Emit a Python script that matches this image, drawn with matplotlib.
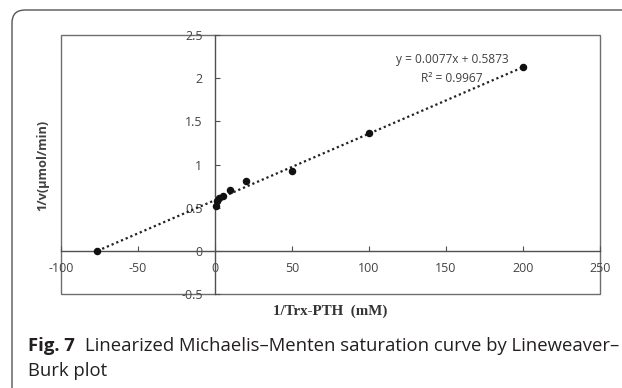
import matplotlib
matplotlib.use("Agg")
import matplotlib.pyplot as plt
from matplotlib.patches import Rectangle, FancyBboxPatch
import numpy as np

# ---- data ----
x_vals = [-76.3, 0.5, 1, 2.5, 5, 10, 20, 50, 100, 200]
y_vals = [0.0, 0.52, 0.58, 0.61, 0.64, 0.70, 0.81, 0.93, 1.36, 2.13]
slope = 0.0077
intercept = 0.5873
r2 = 0.9967
x_ticks = [-100, -50, 0, 50, 100, 150, 200, 250]
y_ticks = [-0.5, 0, 0.5, 1, 1.5, 2, 2.5]
x_tick_labels = ["-100", "-50", "0", "50", "100", "150", "200", "250"]
y_tick_labels = ["-0.5", "0", "0.5", "1", "1.5", "2", "2.5"]
eq_text = "y = 0.0077x + 0.5873"
r2_text = "R\u00b2 = 0.9967"
x_label = "1/Trx-PTH  (mM)"
y_label = "1/v(\u03bcmol/min)"
cap_bold = "Fig. 7"
cap_line1 = "Linearized Michaelis\u2013Menten saturation curve by Lineweaver\u2013"
cap_line2 = "Burk plot"

W, H = 622, 388
fig = plt.figure(figsize=(W / 100, H / 100), dpi=100)
fig.patch.set_facecolor("white")

# outer rounded frame
frame = FancyBboxPatch((0.12, -0.3), 6.6, 3.78 + 0.3,
                       boxstyle="round,pad=0,rounding_size=0.13",
                       transform=fig.dpi_scale_trans, fill=False,
                       edgecolor="#555555", linewidth=1.0, zorder=0)
fig.patches.append(frame)

ax = fig.add_axes([61 / W, 1 - 294 / H, (600 - 61) / W, (294 - 35) / H])
ax.set_xlim(-100, 250)
ax.set_ylim(-0.5, 2.5)

# plot-area box
ax.add_patch(Rectangle((0, 0), 1, 1, transform=ax.transAxes, fill=False,
                       edgecolor="#6e6e6e", linewidth=1.0, zorder=1, clip_on=False))
for s in ("top", "right"):
    ax.spines[s].set_visible(False)
ax.spines["left"].set_position(("data", 0))
ax.spines["bottom"].set_position(("data", 0))
for s in ("left", "bottom"):
    ax.spines[s].set_color("#505050")
    ax.spines[s].set_linewidth(1.0)

ax.set_xticks(x_ticks)
ax.set_xticklabels(x_tick_labels)
ax.set_yticks(y_ticks)
ax.set_yticklabels(y_tick_labels)
for lab in ax.get_xticklabels() + ax.get_yticklabels():
    lab.set_fontfamily("Open Sans")
    lab.set_fontsize(9)
ax.tick_params(axis="x", direction="in", length=3.5, width=0.8, color="#505050",
               labelcolor="#444444", pad=8.3)
ax.tick_params(axis="y", direction="in", length=3.5, width=0.8, color="#505050",
               labelcolor="#444444", pad=9)

# trendline
xl = np.array([min(x_vals), max(x_vals)])
ax.plot(xl, slope * xl + intercept, linestyle=(0, (1, 1.3)), color="#222222",
        linewidth=1.6, zorder=3)
ax.plot(x_vals, y_vals, "o", color="#111111", markersize=4.4, zorder=4)

fig.text(452 / W, 1 - 60 / H, eq_text, ha="center", va="center",
         family="Open Sans", size=8.6, color="#404040")
fig.text(452 / W, 1 - 78 / H, r2_text, ha="center", va="center",
         family="Open Sans", size=8.6, color="#404040")

fig.text(43 / W, 1 - 165 / H, y_label, rotation=90, ha="center", va="center",
         family="Open Sans", weight="bold", size=9.2, color="#404040")
fig.text(330 / W, 1 - 311 / H, x_label, ha="center", va="center",
         family="Liberation Serif", weight="bold", size=10.8, color="#333333")

t1 = fig.text(28 / W, 1 - 351 / H, cap_bold, ha="left", va="baseline",
              family="Open Sans", weight="bold", size=13.3, color="#231f20")
fig.canvas.draw()
bb = t1.get_window_extent(renderer=fig.canvas.get_renderer())
fig.text((bb.x1 + 10) / W, 1 - 351 / H, cap_line1, ha="left", va="baseline",
         family="Open Sans", size=13.3, color="#231f20")
fig.text(28 / W, 1 - 376 / H, cap_line2, ha="left", va="baseline",
         family="Open Sans", size=13.3, color="#231f20")

fig.savefig("out.png", dpi=100)
